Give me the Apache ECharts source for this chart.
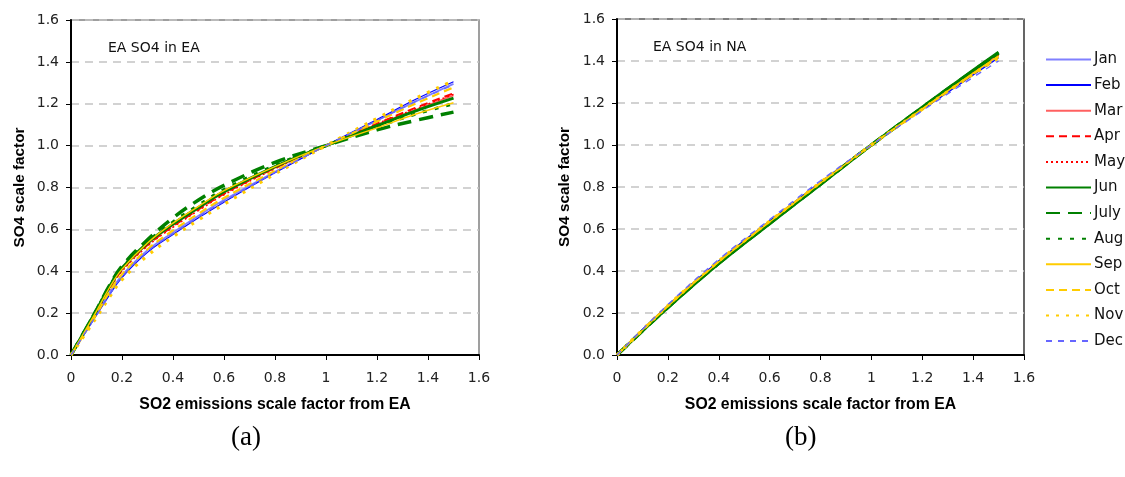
<!DOCTYPE html>
<html>
<head>
<meta charset="utf-8">
<script src="https://cdn.jsdelivr.net/npm/echarts@6/dist/echarts.min.js"></script>
<style>
html,body{margin:0;padding:0;background:#fff;}
#c{width:1125px;height:477px;}
</style>
</head>
<body>
<div id="c"></div>
<script>
// ---- data ----
const months = ['Jan','Feb','Mar','Apr','May','Jun','July','Aug','Sep','Oct','Nov','Dec'];
const xTicks = ['0','0.2','0.4','0.6','0.8','1','1.2','1.4','1.6'];

// panel (a): EA SO4 in EA
const xA = [0, 0.1, 0.15, 0.2, 0.3, 0.4, 0.5, 0.6, 0.8, 1.0, 1.2, 1.35, 1.5];
const aJan = [0, 0.20, 0.295, 0.38, 0.50, 0.585, 0.665, 0.74, 0.875, 1.0, 1.12, 1.21, 1.295];
const aFeb = [0, 0.19, 0.285, 0.37, 0.49, 0.575, 0.655, 0.73, 0.87, 1.0, 1.125, 1.22, 1.305];
const aMar = [0, 0.215, 0.32, 0.41, 0.53, 0.62, 0.70, 0.775, 0.895, 1.0, 1.10, 1.17, 1.24];
const aApr = [0, 0.21, 0.315, 0.405, 0.525, 0.615, 0.695, 0.77, 0.893, 1.0, 1.105, 1.18, 1.25];
const aMay = [0, 0.205, 0.31, 0.40, 0.52, 0.61, 0.69, 0.765, 0.89, 1.0, 1.105, 1.175, 1.245];
const aJun = [0, 0.215, 0.325, 0.415, 0.535, 0.625, 0.705, 0.78, 0.90, 1.0, 1.095, 1.165, 1.227];
const aJul = [0, 0.215, 0.33, 0.425, 0.55, 0.655, 0.74, 0.81, 0.92, 1.0, 1.075, 1.12, 1.16];
const aAug = [0, 0.215, 0.325, 0.415, 0.54, 0.635, 0.715, 0.79, 0.905, 1.0, 1.09, 1.15, 1.20];
const aSep = [0, 0.21, 0.32, 0.41, 0.535, 0.63, 0.71, 0.785, 0.90, 1.0, 1.085, 1.15, 1.205];
const aOct = [0, 0.195, 0.30, 0.385, 0.505, 0.595, 0.675, 0.75, 0.88, 1.0, 1.115, 1.20, 1.278];
const aNov = [0, 0.18, 0.275, 0.36, 0.475, 0.565, 0.645, 0.72, 0.865, 1.0, 1.13, 1.225, 1.31];
const aDec = [0, 0.19, 0.285, 0.375, 0.495, 0.58, 0.66, 0.735, 0.872, 1.0, 1.12, 1.21, 1.29];

// panel (b): EA SO4 in NA
const xB = [0, 0.2, 0.4, 0.6, 0.8, 1.0, 1.2, 1.35, 1.5];
const bJan = [0, 0.235, 0.447, 0.637, 0.822, 1.0, 1.17, 1.295, 1.42];
const bFeb = [0, 0.236, 0.448, 0.638, 0.823, 1.0, 1.168, 1.292, 1.415];
const bMar = [0, 0.23, 0.44, 0.63, 0.817, 1.0, 1.175, 1.305, 1.432];
const bApr = [0, 0.23, 0.441, 0.631, 0.818, 1.0, 1.174, 1.303, 1.43];
const bMay = [0, 0.229, 0.44, 0.63, 0.817, 1.0, 1.175, 1.305, 1.433];
const bJun = [0, 0.225, 0.435, 0.625, 0.812, 1.0, 1.18, 1.312, 1.442];
const bJul = [0, 0.227, 0.437, 0.627, 0.814, 1.0, 1.178, 1.31, 1.438];
const bAug = [0, 0.228, 0.438, 0.628, 0.815, 1.0, 1.177, 1.308, 1.436];
const bSep = [0, 0.232, 0.443, 0.633, 0.819, 1.0, 1.172, 1.30, 1.425];
const bOct = [0, 0.234, 0.446, 0.636, 0.821, 1.0, 1.17, 1.297, 1.42];
const bNov = [0, 0.235, 0.447, 0.637, 0.822, 1.0, 1.17, 1.296, 1.415];
const bDec = [0, 0.24, 0.455, 0.645, 0.83, 1.0, 1.163, 1.283, 1.40];

const panelA = [aJan,aFeb,aMar,aApr,aMay,aJun,aJul,aAug,aSep,aOct,aNov,aDec];
const panelB = [bJan,bFeb,bMar,bApr,bMay,bJun,bJul,bAug,bSep,bOct,bNov,bDec];

// ---- styles ----
const styles = [
  {color:'#8080ff', width:1.8, type:'solid'},
  {color:'#0000ff', width:1.2, type:'solid'},
  {color:'#ff6060', width:1.8, type:'solid'},
  {color:'#ff0000', width:2, type:[8,5]},
  {color:'#ff0000', width:1.5, type:[2,3]},
  {color:'#008000', width:3, type:'solid'},
  {color:'#008000', width:3.5, type:[14,8]},
  {color:'#008000', width:3.2, type:[4,8]},
  {color:'#ffcc00', width:1.4, type:'solid'},
  {color:'#ffcc00', width:2.2, type:[8,5]},
  {color:'#ffcc00', width:3.2, type:[3,7]},
  {color:'#6666ff', width:1.4, type:[6,6]}
];

const FONT = 'DejaVu Sans';
function pairs(xs, ys){ return xs.map((x,i)=>[x, ys[i]]); }

function xAxisCfg(gi){
  return {
    type:'value', gridIndex:gi, min:0, max:1.6, interval:0.2,
    name:'SO2 emissions scale factor from EA', nameLocation:'middle', nameGap:42,
    nameTextStyle:{fontFamily:'Liberation Sans', fontWeight:'bold', fontSize:15.8, color:'#000'},
    axisLine:{show:true, onZero:false, lineStyle:{color:'#000', width:2}},
    axisTick:{show:true, inside:false, length:5, lineStyle:{color:'#000', width:1}},
    axisLabel:{margin:16, fontFamily:FONT, fontSize:14, color:'#222',
      formatter:(v)=>xTicks[Math.round(v/0.2)]},
    splitLine:{show:false}
  };
}
function yAxisCfg(gi, gap){
  return {
    type:'value', gridIndex:gi, min:0, max:1.6, interval:0.2,
    name:'SO4 scale factor', nameLocation:'middle', nameGap:gap, nameRotate:90,
    nameTextStyle:{fontFamily:'Liberation Sans', fontWeight:'bold', fontSize:15.3, color:'#000'},
    axisLine:{show:true, onZero:false, lineStyle:{color:'#000', width:2}},
    axisTick:{show:true, inside:false, length:5, lineStyle:{color:'#000', width:1}},
    axisLabel:{margin:12, fontFamily:FONT, fontSize:14, color:'#222', formatter:(v)=>v.toFixed(1)},
    splitLine:{show:true, lineStyle:{color:'#c4c4c4', width:1.5, type:[8,6]}}
  };
}

const series = [];
[panelA, panelB].forEach((panel, gi)=>{
  const xs = gi===0 ? xA : xB;
  panel.forEach((ys, i)=>{
    series.push({
      name: months[i], type:'line', xAxisIndex:gi, yAxisIndex:gi,
      data: pairs(xs, ys), smooth:0.4, symbol:'none',
      lineStyle:{color:styles[i].color, width:styles[i].width, type:styles[i].type},
      itemStyle:{color:styles[i].color},
      emphasis:{disabled:true}, animation:false
    });
  });
});

const chart = echarts.init(document.getElementById('c'), null, {renderer:'canvas'});
chart.setOption({
  animation:false,
  backgroundColor:'#fff',
  grid:[
    {left:71, top:20, width:408, height:335, show:true, borderColor:'#808080', borderWidth:1.5, backgroundColor:'transparent'},
    {left:617, top:19, width:407, height:336, show:true, borderColor:'#000', borderWidth:1.2, backgroundColor:'transparent'}
  ],
  xAxis:[xAxisCfg(0), xAxisCfg(1)],
  yAxis:[yAxisCfg(0, 44), yAxisCfg(1, 45)],
  legend:{
    orient:'vertical', left:1045, top:52, padding:0,
    itemWidth:45, itemHeight:15, itemGap:10.6, itemStyle:{opacity:0},
    textStyle:{fontFamily:FONT, fontSize:15, color:'#111', padding:[0,0,0,-2]},
    data: months
  },
  graphic:[
    {type:'text', left:108, top:41, style:{text:'EA SO4 in EA', fontFamily:FONT, fontSize:14, fill:'#111'}},
    {type:'text', left:653, top:40, style:{text:'EA SO4 in NA', fontFamily:FONT, fontSize:14, fill:'#111'}},
    {type:'text', left:231, top:424, style:{text:'(a)', fontFamily:'Liberation Serif', fontSize:27, fill:'#000'}},
    {type:'text', left:785, top:424, style:{text:'(b)', fontFamily:'Liberation Serif', fontSize:27, fill:'#000'}}
  ],
  series: series
});
</script>
</body>
</html>
